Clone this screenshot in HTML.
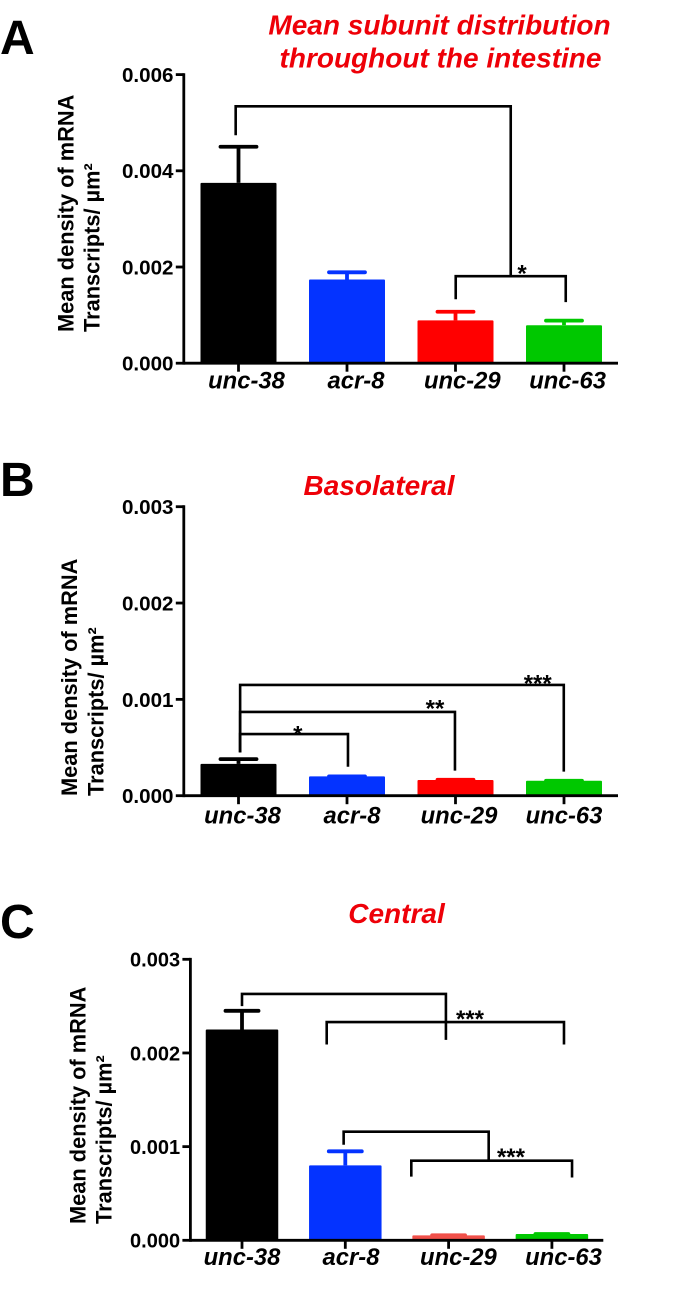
<!DOCTYPE html>
<html lang="en">
<head>
<meta charset="utf-8">
<title>Mean subunit distribution throughout the intestine</title>
<style>
html,body{margin:0;padding:0;background:#fff;}
svg{display:block;}
text{font-family:"Liberation Sans",Arial,sans-serif;font-weight:bold;fill:#000;}
.title{font-style:italic;fill:#ee0008;font-size:28px;text-anchor:middle;}
.letter{font-size:48px;}
.ytitle{font-size:21.8px;}
.tick{text-anchor:end;}
.cat{font-size:23.8px;font-style:italic;text-anchor:middle;}
.star{font-size:24px;text-anchor:middle;}
</style>
</head>
<body>
<svg id="figure" xmlns="http://www.w3.org/2000/svg" width="685" height="1293" viewBox="0 0 685 1293">
  <rect x="0" y="0" width="685" height="1293" fill="#ffffff"/>

  <g id="panel-a">
    <text class="letter" x="0" y="54">A</text>
    <text class="title" x="439.5" y="34.3">Mean subunit distribution</text>
    <text class="title" x="440.5" y="67.7">throughout the intestine</text>
    <text class="ytitle" transform="translate(73.5 332) rotate(-90)">Mean density of mRNA</text>
    <text class="ytitle" transform="translate(99.5 332) rotate(-90)">Transcripts/ µm²</text>
  </g>

  <g id="panel-b">
    <text class="letter" x="0" y="496">B</text>
    <text class="title" x="379" y="495">Basolateral</text>
    <text class="ytitle" transform="translate(77 796) rotate(-90)">Mean density of mRNA</text>
    <text class="ytitle" transform="translate(103.5 796) rotate(-90)">Transcripts/ µm²</text>
  </g>

  <g id="panel-c">
    <text class="letter" x="0" y="938">C</text>
    <text class="title" x="396.5" y="923">Central</text>
    <text class="ytitle" transform="translate(85.5 1224) rotate(-90)">Mean density of mRNA</text>
    <text class="ytitle" transform="translate(111.5 1224) rotate(-90)">Transcripts/ µm²</text>
  </g>
</svg>

<script>
const categories = ['unc-38', 'acr-8', 'unc-29', 'unc-63'];

const panelATickLabels = ['0.000', '0.002', '0.004', '0.006'];
const panelAMeans = [0.00375, 0.00174, 0.00089, 0.00079];
const panelAErrorTops = [0.0045, 0.00189, 0.00107, 0.000885];
const panelABrackets = [
  [-0.026, 0.00474, 0.00534, 2.509, 0.00181],
  [2.002, 0.00133, 0.00181, 3.016, 0.00127]
];
const panelAStars = [['*', 2.613, 0.00198]];

const panelBTickLabels = ['0.000', '0.001', '0.002', '0.003'];
const panelBMeans = [0.00033, 0.0002, 0.000163, 0.000155];
const panelBErrorTops = [0.00038, 0.0002, 0.000165, 0.000155];
const panelBBrackets = [
  [0.015, 0.00045, 0.00115, 2.998, 0.00025],
  [0.015, 0.00045, 0.00087, 1.995, 0.00026],
  [0.015, 0.00045, 0.00064, 1.009, 0.0003]
];
const panelBStars = [['***', 2.758, 0.00122], ['**', 1.811, 0.00096], ['*', 0.547, 0.00069]];

const panelCTickLabels = ['0.000', '0.001', '0.002', '0.003'];
const panelCMeans = [0.00225, 0.0008, 0.000053, 0.000067];
const panelCErrorTops = [0.00245, 0.00095, 0.000053, 0.000067];
const panelCBrackets = [
  [0, 0.00250, 0.00263, 1.974, 0.00214],
  [0.82, 0.00209, 0.00233, 3.117, 0.00209],
  [0.984, 0.00102, 0.00116, 2.388, 0.00085],
  [1.639, 0.00068, 0.00085, 3.195, 0.00067]
];
const panelCStars = [['***', 2.207, 0.00242], ['***', 2.604, 0.00095]];

const SVG_NS = 'http://www.w3.org/2000/svg';

function make(tag, attrs, parent, text) {
  const el = document.createElementNS(SVG_NS, tag);
  Object.keys(attrs).forEach(function (k) { el.setAttribute(k, attrs[k]); });
  if (text !== undefined) el.textContent = text;
  parent.appendChild(el);
  return el;
}

function drawPanel(o) {
  const root = document.getElementById(o.id);
  const maxValue = parseFloat(o.tickLabels[o.tickLabels.length - 1]);
  const y = function (v) { return o.y0 - (v / maxValue) * (o.y0 - o.yTop); };
  const xCenter = function (i) { return o.firstCenter + i * o.step; };

  // bars and error bars
  categories.forEach(function (cat, i) {
    const cx = xCenter(i);
    const color = o.colors[i];
    const stem = make('line', { x1: cx, x2: cx, y1: y(o.means[i]), y2: y(o.errorTops[i]), stroke: color, 'stroke-width': 3.8 }, root);
    
    
    const cap = make('line', { x1: cx - o.capWidth / 2 + 1.5, x2: cx + o.capWidth / 2 - 1.5, y1: y(o.errorTops[i]), y2: y(o.errorTops[i]), stroke: color, 'stroke-width': 3.8, 'stroke-linecap': 'round' }, root);
    
    
    const bar = make('rect', { x: cx - o.barWidth / 2, y: y(o.means[i]), width: o.barWidth, height: o.y0 - y(o.means[i]), fill: color, rx: 1 }, root);
    
    
    const tick = make('line', { x1: cx, x2: cx, y1: o.y0, y2: o.y0 + 8.5, stroke: '#000', 'stroke-width': 2.8 }, root);
    
    
    const label = make('text', { class: 'cat', x: cx + o.labelShift[i], y: o.labelBaseline }, root, cat);
    
    
  });

  // axes
  const yAxis = make('line', { x1: o.axisX, x2: o.axisX, y1: o.yTop - 1.4, y2: o.y0 + 1.4, stroke: '#000', 'stroke-width': 2.8 }, root);
  
  
  const xAxis = make('line', { x1: o.axisX, x2: o.axisEnd, y1: o.y0, y2: o.y0, stroke: '#000', 'stroke-width': 2.8 }, root);
  
  

  o.tickLabels.forEach(function (t) {
    const v = parseFloat(t);
    const tick = make('line', { x1: o.axisX - 8, x2: o.axisX, y1: y(v), y2: y(v), stroke: '#000', 'stroke-width': 2.8 }, root);
    
    
    const label = make('text', { class: 'tick', 'font-size': o.tickSize, x: o.axisX - 10.3, y: y(v) + 7.4 }, root, t);
    
    
  });

  // significance brackets: [left category pos, left end value, level, right category pos, right end value]
  o.brackets.forEach(function (b, i) {
    const d = 'M' + xCenter(b[0]) + ' ' + y(b[1]) + 'V' + y(b[2]) + 'H' + xCenter(b[3]) + 'V' + y(b[4]);
    const path = make('path', { d: d, fill: 'none', stroke: '#000', 'stroke-width': 2.6 }, root);
    
    
  });

  o.stars.forEach(function (s, i) {
    const star = make('text', { class: 'star', x: xCenter(s[1]), y: y(s[2]) + 13.5 }, root, s[0]);
    
    
  });
}

drawPanel({
  id: 'panel-a', tickLabels: panelATickLabels, means: panelAMeans, errorTops: panelAErrorTops,
  brackets: panelABrackets, stars: panelAStars,
  y0: 363.2, yTop: 74.6, axisX: 183.8, axisEnd: 618,
  firstCenter: 238.5, step: 108.5, barWidth: 76, capWidth: 39, tickSize: 20.6,
  labelShift: [8, 9, 6.8, 3.6], labelBaseline: 388.7,
  colors: ['#000000', '#0433ff', '#ff0000', '#00c800']
});

drawPanel({
  id: 'panel-b', tickLabels: panelBTickLabels, means: panelBMeans, errorTops: panelBErrorTops,
  brackets: panelBBrackets, stars: panelBStars,
  y0: 795.7, yTop: 506.7, axisX: 183.8, axisEnd: 618,
  firstCenter: 238.5, step: 108.5, barWidth: 76, capWidth: 39, tickSize: 20.6,
  labelShift: [4, 5, 3.5, 0], labelBaseline: 823.3,
  colors: ['#000000', '#0433ff', '#ff0000', '#00c800']
});

drawPanel({
  id: 'panel-c', tickLabels: panelCTickLabels, means: panelCMeans, errorTops: panelCErrorTops,
  brackets: panelCBrackets, stars: panelCStars,
  y0: 1240.3, yTop: 959.3, axisX: 190.4, axisEnd: 603.3,
  firstCenter: 242, step: 103.3, barWidth: 72.5, capWidth: 36, tickSize: 20,
  labelShift: [0, 5.7, 9.8, 11.6], labelBaseline: 1265,
  colors: ['#000000', '#0433ff', '#f0504a', '#00c800']
});
</script>
</body>
</html>
